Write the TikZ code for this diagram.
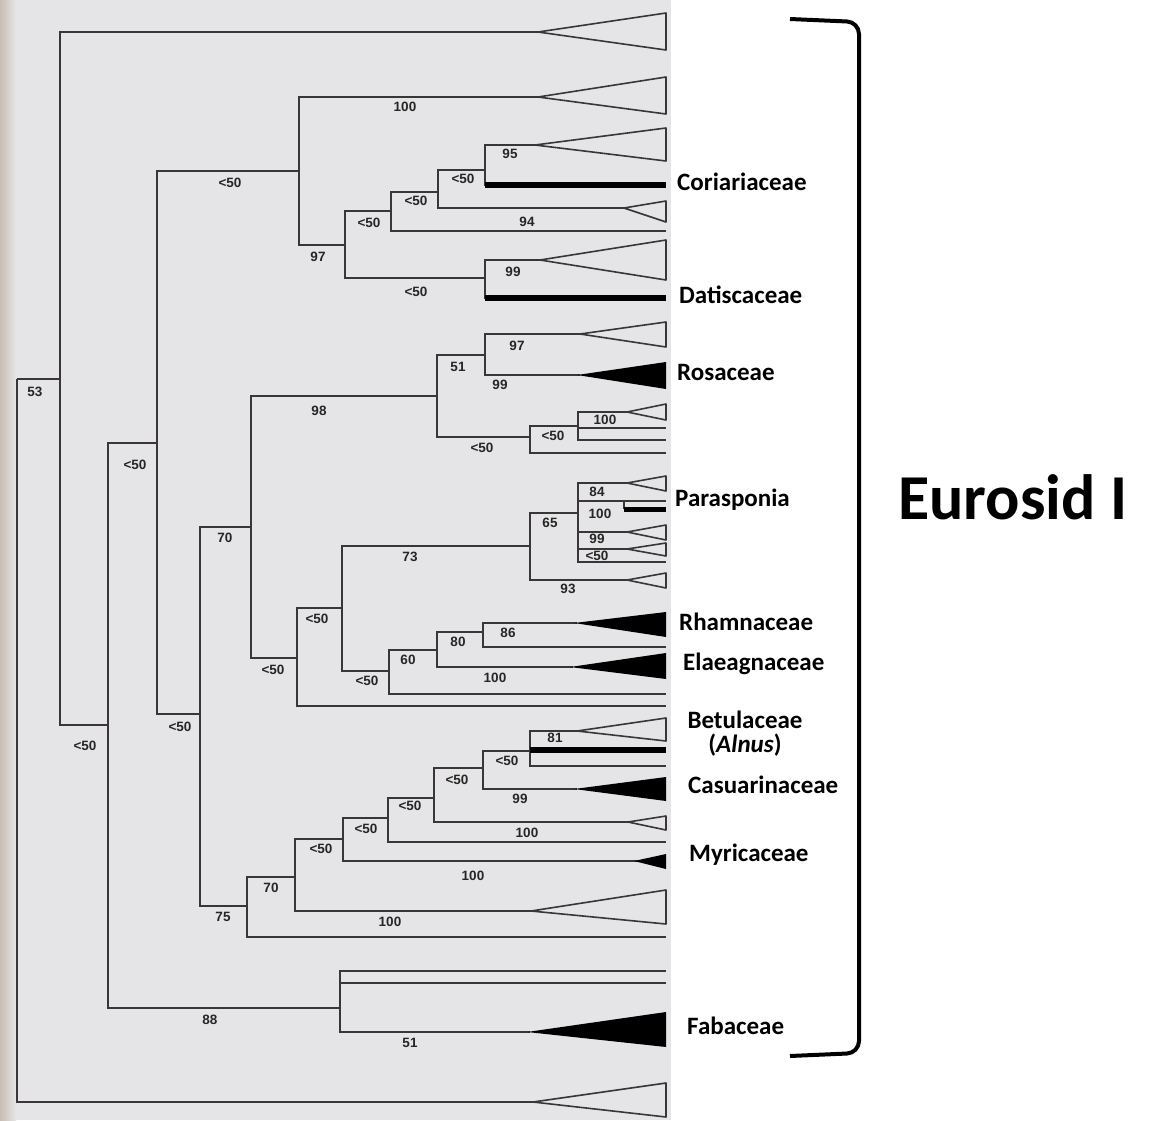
\documentclass[tikz,border=0pt]{standalone}
\usepackage{fontspec}
\setmainfont{Carlito}
\newfontfamily\supfont{Liberation Sans}
\usetikzlibrary{calc}
\definecolor{scangrey}{RGB}{229,229,231}
\definecolor{gutter}{RGB}{200,190,180}
\definecolor{branchgrey}{RGB}{58,54,54}

\begin{document}
\begin{tikzpicture}[x=1pt,y=-1pt,
    br/.style={draw=branchgrey,line width=1.8pt},
    tri/.style={draw=branchgrey,line width=1.6pt,line join=round},
    blk/.style={fill=black},
    bar/.style={draw=black,line width=6pt},
    bs/.style={font=\supfont\bfseries\fontsize{13.5}{13.5}\selectfont,text=black!85,inner sep=0pt},
    fam/.style={anchor=west,inner sep=0pt,font=\bfseries\fontsize{25}{24}\selectfont}]
  \useasboundingbox (0,0) rectangle (1152,1120);
  % scanned page behind the tree
  \fill[scangrey] (0,0) rectangle (671,1120);
  \shade[left color=gutter,right color=scangrey] (0,0) rectangle (16,1120);

  % internal nodes
  \foreach \nm/\px/\py in {nRoot/17/379, nA/60/379, nB/108/725, nC/157/443,
      nD/299/171, nE/345/245, nF/391/211, nG/438/192, nI/485/170, nH/485/278,
      nW/200/714, nV/251/527, nJ/437/396, nK/485/355, nL/530/437, nM/578/426,
      nQ/297/658, nR/342/608, nN/530/546, nO/578/513, nS/389/671, nT/437/650,
      nU/483/632, nX/247/906, nY/295/877, nZ/343/839, nAA/388/818, nBB/434/798,
      nCC/483/768, nDD/530/751, nEE/340/1008}
    \coordinate (\nm) at (\px,\py);
  % leaves (apex of a triangle, or end of a line)
  \foreach \nm/\px/\py in {lf1/538/32, lf2/538/97, lf3/535/145, lf4/666/185,
      lf5/624/208, lf6/666/231, lf7/540/260, lf8/666/298, lf9/580/334,
      lf10/580/375, lf11/627/412, lf12/666/428, lf13/666/440, lf14/666/453,
      lf15/627/483, lf16/666/501, lf17/627/532, lf18/627/549, lf19/666/562,
      lf20/627/580, lf21/577/623, lf22/666/647, lf23/573/667, lf24/666/694,
      lf25/666/706, lf26/577/731, lf27/666/750, lf28/666/766, lf29/577/789,
      lf30/628/822, lf31/666/842, lf32/637/861, lf33/531/911, lf34/666/937,
      lf35/666/971, lf36/666/983, lf37/530/1032, lf38/533/1102,
      pfork/624/509, lf16b/666/509}
    \coordinate (\nm) at (\px,\py);

  % branches
  \foreach \p/\c in {nRoot/nA, nA/lf1, nA/nB, nB/nC, nB/nEE, nC/nD, nC/nW,
      nD/lf2, nD/nE, nE/nF, nE/nH, nF/nG, nF/lf6, nG/nI, nG/lf5, nI/lf3, nI/lf4,
      nH/lf7, nH/lf8, nW/nV, nW/nX, nV/nJ, nV/nQ, nJ/nK, nJ/nL, nK/lf9, nK/lf10,
      nL/nM, nL/lf14, nM/lf11, nM/lf12, nM/lf13, nQ/nR, nQ/lf25, nR/nN, nR/nS,
      nN/nO, nN/lf20, nO/lf15, nO/lf16, nO/lf17, nO/lf18, nO/lf19, nS/nT,
      nS/lf24, nT/nU, nT/lf23, nU/lf21, nU/lf22, nX/nY, nX/lf34, nY/nZ, nY/lf33,
      nZ/nAA, nZ/lf32, nAA/nBB, nAA/lf31, nBB/nCC, nBB/lf30, nCC/nDD, nCC/lf29,
      nDD/lf26, nDD/lf27, nDD/lf28, nEE/lf35, nEE/lf36, nEE/lf37, nRoot/lf38}
    \draw[br] (\p) |- (\c);

  % collapsed clades
  \foreach \nm/\ta/\tb in {lf1/13/50, lf2/77/114, lf3/128/161, lf5/201/222,
      lf7/240/280, lf9/322/347, lf11/404/420, lf15/476/491, lf17/525/540,
      lf18/543/556, lf20/573/588, lf26/718/741, lf30/816/830, lf33/890/924,
      lf38/1083/1117}
    \draw[tri] (\nm) -- (666,\ta) -- (666,\tb) -- cycle;
  \foreach \nm/\ta/\tb in {lf10/362/389, lf21/612/637, lf23/653/679,
      lf29/777/801, lf32/854/869, lf37/1012/1047}
    \fill[blk] ([xshift=-3pt]\nm) -- (666,\ta) -- (666,\tb) -- cycle;
  % nodulating single taxa
  \draw[bar] (nI |- lf4) -- (lf4);
  \draw[bar] (nH |- lf8) -- (lf8);
  \draw[bar] (nDD |- lf27) -- (lf27);
  \draw[br] (pfork |- lf16) -- (pfork);
  \draw[bar,line width=5pt] (pfork) -- (lf16b);

  % bootstrap values
  \foreach \px/\py/\t [count=\k] in {35/392/53, 85/746/<50, 135/465/<50,
      230/183/<50, 318/257/97, 405/107/100, 369/223/<50, 416/201/<50,
      463/179/<50, 510/154/95, 527/222/94, 416/292/<50, 513/272/99,
      225/538/70, 319/411/98, 458/367/51, 517/346/97, 500/385/99,
      482/448/<50, 553/436/<50, 605/420/100, 273/670/<50, 317/619/<50,
      410/557/73, 550/523/65, 597/492/84, 600/514/100, 597/539/99,
      597/556/<50, 568/589/93, 367/681/<50, 408/660/60, 458/642/80,
      508/633/86, 495/678/100, 180/727/<50, 223/917/75, 271/888/70,
      321/849/<50, 390/922/100, 366/829/<50, 473/876/100, 410/806/<50,
      527/833/100, 457/780/<50, 520/799/99, 507/761/<50, 555/738/81,
      210/1020/88, 410/1043/51}
    \node[bs] (bs\k) at (\px,\py) {\t};

  % families
  \node[fam] (cori) at (677,182) {Coriariaceae};
  \node[fam] (dati) at (679,295) {Datiscaceae};
  \node[fam] (rosa) at (677,372) {Rosaceae};
  \node[fam] (para) at (675,500) {Parasponia};
  \node[fam] (rham) at (679,622) {Rhamnaceae};
  \node[fam] (elae) at (683,664) {Elaeagnaceae};
  \node[fam,anchor=center,align=center] (betu) at (745,734) {Betulaceae\\(\textit{Alnus})};
  \node[fam] (casu) at (688,785) {Casuarinaceae};
  \node[fam] (myri) at (689,855) {Myricaceae};
  \node[fam] (faba) at (687,1026) {Fabaceae};

  % bracket
  \draw[line width=4pt,rounded corners=12pt] (790,19) -- (859,22) -- (859,1053) -- (790,1056);
  \node[anchor=west,inner sep=0pt,font=\bfseries\fontsize{64}{64}\selectfont] (euro) at (898,497) {Eurosid I};
\end{tikzpicture}
\end{document}
